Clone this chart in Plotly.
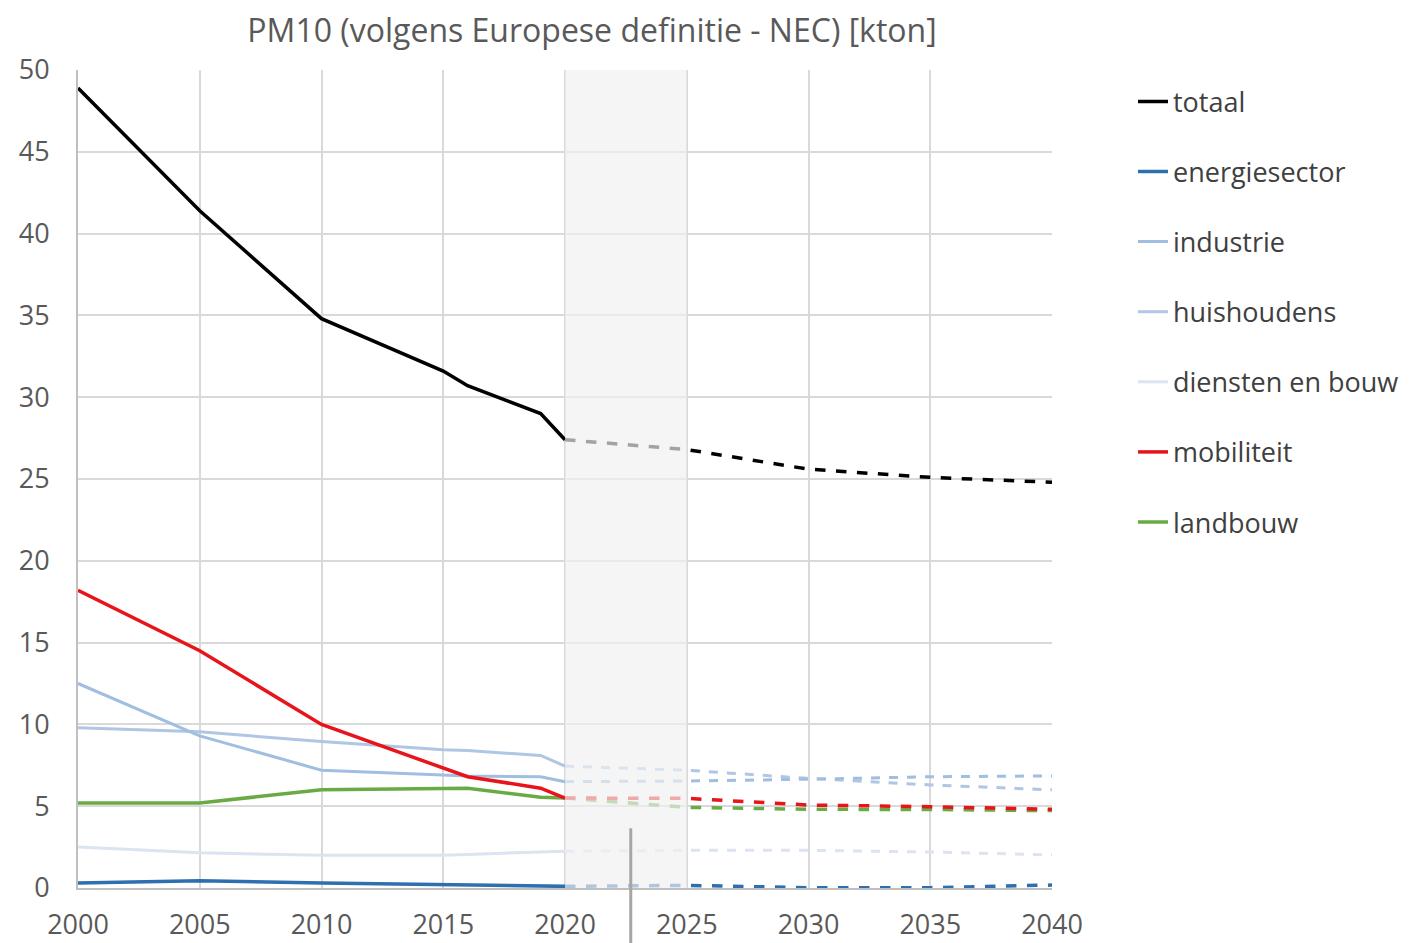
import plotly.graph_objects as go

# ---------------- data ----------------
hist_years = [2000, 2005, 2010, 2015, 2016, 2019, 2020]
proj_years = [2020, 2025, 2030, 2035, 2040]

series_names = ["totaal", "energiesector", "industrie", "huishoudens",
                "diensten en bouw", "mobiliteit", "landbouw"]

totaal_hist = [48.9, 41.4, 34.8, 31.6, 30.7, 29.0, 27.4]
energie_hist = [0.3, 0.45, 0.3, 0.2, 0.2, 0.15, 0.1]
industrie_hist = [12.5, 9.3, 7.2, 6.9, 6.85, 6.8, 6.5]
huishoudens_hist = [9.8, 9.55, 8.95, 8.45, 8.4, 8.1, 7.45]
diensten_hist = [2.5, 2.15, 2.0, 2.0, 2.05, 2.2, 2.25]
mobiliteit_hist = [18.2, 14.5, 10.0, 7.3, 6.8, 6.1, 5.5]
landbouw_hist = [5.2, 5.2, 6.0, 6.1, 6.1, 5.55, 5.5]

totaal_proj = [27.4, 26.8, 25.6, 25.1, 24.8]
energie_proj = [0.1, 0.16, 0.02, 0.02, 0.18]
industrie_proj = [6.5, 6.54, 6.65, 6.8, 6.85]
huishoudens_proj = [7.45, 7.2, 6.7, 6.3, 6.0]
diensten_proj = [2.25, 2.3, 2.3, 2.2, 2.02]
mobiliteit_proj = [5.5, 5.48, 5.07, 4.97, 4.81]
landbouw_proj = [5.5, 4.93, 4.81, 4.8, 4.73]

hist = [totaal_hist, energie_hist, industrie_hist, huishoudens_hist,
        diensten_hist, mobiliteit_hist, landbouw_hist]
proj = [totaal_proj, energie_proj, industrie_proj, huishoudens_proj,
        diensten_proj, mobiliteit_proj, landbouw_proj]

colors = ["#000000", "#2E6FB0", "#9FBEE0", "#AFC6E4", "#DCE4F0", "#E8141B", "#6AAA45"]
widths = [3.5, 3.5, 3, 3, 3, 3.5, 3.5]

x_ticks = [2000, 2005, 2010, 2015, 2020, 2025, 2030, 2035, 2040]
y_ticks = [0, 5, 10, 15, 20, 25, 30, 35, 40, 45, 50]

# ---------------- figure ----------------
fig = go.Figure()
draw_order = [4, 3, 2, 1, 6, 5, 0]
for i in draw_order:
    fig.add_trace(go.Scatter(
        x=hist_years, y=hist[i], mode="lines", name=series_names[i],
        line=dict(color=colors[i], width=widths[i]),
        legendgroup=series_names[i], legendrank=i + 1, showlegend=True))
    fig.add_trace(go.Scatter(
        x=proj_years, y=proj[i], mode="lines", name=series_names[i],
        line=dict(color=colors[i], width=widths[i], dash="dash"),
        legendgroup=series_names[i], showlegend=False))

# shaded transition band (drawn above lines, semi-transparent)
fig.add_shape(type="rect", xref="x", yref="y", x0=2020, x1=2025, y0=0, y1=50,
              fillcolor="rgba(240,240,240,0.68)", line=dict(width=0), layer="above")
# stray vertical marker line
fig.add_shape(type="line", xref="x", yref="paper", x0=2022.7, x1=2022.7,
              y0=0.073, y1=-0.07, line=dict(color="#A6A6A6", width=3), layer="above")

FONT = "Open Sans, Liberation Sans, sans-serif"
fig.update_layout(
    width=1401, height=935,
    paper_bgcolor="white", plot_bgcolor="white",
    margin=dict(l=70, r=357, t=62, b=55, autoexpand=False),
    title=dict(text="PM10 (volgens Europese definitie - NEC) [kton]",
               x=584 / 1401, xanchor="center", y=1 - 23 / 935, yanchor="middle",
               font=dict(family=FONT, size=32, color="#595959")),
    font=dict(family=FONT, color="#595959"),
    showlegend=True,
    legend=dict(x=(1133 - 78) / 974, y=0.991, xanchor="left", yanchor="top",
                font=dict(size=27, color="#404040"),
                tracegroupgap=32, bgcolor="rgba(0,0,0,0)", traceorder="grouped"),
)
fig.update_xaxes(range=[2000, 2040], tickvals=x_ticks, showgrid=True,
                 gridcolor="#D9D9D9", gridwidth=2, showline=True, linecolor="#BFBFBF",
                 linewidth=2, mirror=False, zeroline=False, ticks="",
                 tickfont=dict(size=27, color="#595959"), ticklabelstandoff=12)
fig.update_yaxes(range=[0, 50], tickvals=y_ticks, showgrid=True,
                 gridcolor="#D9D9D9", gridwidth=2, showline=True, linecolor="#BFBFBF",
                 linewidth=2, zeroline=False, ticks="",
                 tickfont=dict(size=27, color="#595959"), ticklabelstandoff=21)

fig.write_html("out.html")
